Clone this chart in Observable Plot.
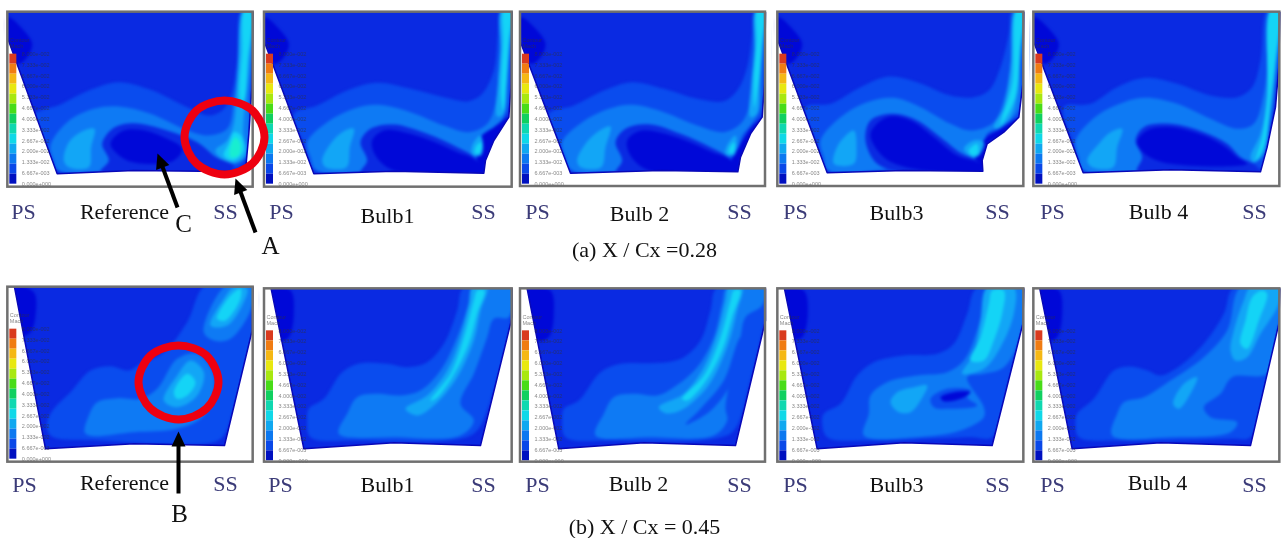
<!DOCTYPE html>
<html><head><meta charset="utf-8">
<style>
html,body{margin:0;padding:0;background:#fff}
svg{display:block;background:#fff}
g[aria-description="contours"]{filter:blur(1.5px)}
g[aria-description="masks"],g[aria-description="walls"],g[aria-description="bars"]{filter:blur(.5px)}
g[aria-description="ticks"]{filter:blur(.5px)}
g[aria-description="labels"]{filter:blur(.3px)}
</style>
<script src="https://cdn.jsdelivr.net/npm/d3@7"></script>
<script src="https://cdn.jsdelivr.net/npm/@observablehq/plot@0.6"></script>
</head><body>
<script>
const levelColors = ["#0008d8","#0a2ae2","#0a4cee","#0e7af4","#12a6f6","#14d4f6","#18eed0"];
const barColors = ["#d93a1e","#f07c12","#f5b814","#e8e810","#a8e810","#48dc18","#10d060","#10d8b0","#10d8e8","#10a8f0","#0c78f0","#0a48e8","#0010c0"];
const barTicks = ["8.000e-002","7.333e-002","6.667e-002","6.000e-002","5.333e-002","4.667e-002","4.000e-002","3.333e-002","2.667e-002","2.000e-002","1.333e-002","6.667e-003","0.000e+000"];

// Contours: [level, outline], in 3x crop pixels
const a0Contours = [
 [0,[[22,50],[70,90],[95,130],[80,170],[50,190],[22,120]]],
 [2,[[100,345],[180,312],[270,268],[355,245],[450,268],[560,320],[625,345],[665,330],[690,290],[710,180],[722,30],[752,30],[748,300],[736,480],[700,505],[620,495],[560,500],[170,510],[130,430]]],
 [3,[[150,435],[200,365],[280,325],[355,318],[450,340],[550,385],[620,405],[680,385],[700,300],[718,150],[726,30],[752,30],[748,300],[735,470],[700,490],[640,490],[400,505],[175,510],[160,480]]],
 [1,[[305,430],[340,382],[400,368],[500,390],[590,425],[650,472],[700,495],[680,515],[300,515],[325,480]]],
 [0,[[330,430],[365,392],[420,388],[490,410],[545,445],[520,480],[430,490],[370,475]]],
 [4,[[190,480],[205,425],[240,395],[282,385],[272,440],[265,500],[205,500]]],
 [4,[[728,30],[752,30],[745,200],[735,300],[728,400],[738,460],[705,488],[665,475],[645,450],[680,420],[700,370],[712,200]]],
 [5,[[732,30],[752,30],[742,180],[730,300],[720,300],[725,150]]],
 [5,[[700,395],[722,405],[730,450],[700,480],[670,465],[685,430]]],
 [6,[[705,410],[720,430],[715,465],[690,470],[690,435]]]
];
const a1Contours = [
 [0,[[12,50],[60,90],[85,130],[70,170],[40,190],[12,120]]],
 [2,[[100,340],[170,315],[260,270],[350,247],[450,265],[550,290],[625,302],[665,280],[700,210],[712,100],[720,30],[752,30],[745,330],[712,375],[680,410],[660,470],[600,500],[160,510],[130,430]]],
 [3,[[140,425],[200,365],[280,325],[350,313],[450,335],[550,375],[625,395],[680,370],[705,310],[718,150],[725,30],[752,30],[745,200],[735,330],[715,372],[680,395],[660,460],[640,470],[500,490],[170,510],[150,470]]],
 [0,[[660,410],[700,380],[745,350],[700,430],[675,490],[672,518],[640,515],[650,470]]],
 [1,[[300,425],[330,385],[400,372],[500,400],[590,440],[640,468],[660,500],[660,520],[300,520],[320,480]]],
 [0,[[335,420],[370,390],[430,395],[510,420],[590,455],[640,475],[670,515],[400,510],[345,465]]],
 [4,[[185,480],[210,430],[245,395],[280,385],[268,440],[258,500],[195,500]]],
 [4,[[722,30],[752,30],[745,150],[738,250],[730,340],[710,348],[712,250],[720,150]]],
 [5,[[730,30],[752,30],[745,120],[738,240],[728,330],[722,290],[728,120]]],
 [4,[[635,435],[660,405],[668,440],[660,465],[635,462]]],
 [5,[[645,440],[662,425],[660,455],[645,460]]]
];
const a2Contours = [
 [0,[[780,50],[830,90],[855,130],[840,170],[810,190],[780,120]]],
 [2,[[865,340],[940,315],[1030,270],[1115,245],[1210,265],[1310,295],[1390,302],[1430,270],[1460,200],[1475,100],[1483,30],[1512,30],[1506,340],[1470,380],[1440,430],[1420,470],[1360,500],[930,510],[895,430]]],
 [3,[[905,425],[965,365],[1045,325],[1115,313],[1210,335],[1310,375],[1390,395],[1440,370],[1465,320],[1480,150],[1487,30],[1512,30],[1505,200],[1497,330],[1470,375],[1445,405],[1428,455],[1400,470],[1250,490],[935,510],[915,470]]],
 [0,[[1435,440],[1470,385],[1507,350],[1470,410],[1440,480],[1432,518],[1400,515],[1420,465]]],
 [1,[[1065,425],[1095,385],[1170,372],[1260,400],[1350,440],[1400,468],[1425,500],[1425,520],[1065,520],[1085,480]]],
 [0,[[1100,420],[1135,392],[1195,395],[1275,420],[1355,455],[1405,475],[1430,515],[1165,510],[1110,465]]],
 [4,[[950,480],[975,430],[1010,395],[1050,378],[1035,440],[1022,500],[960,500]]],
 [4,[[1485,30],[1512,30],[1505,150],[1497,250],[1490,340],[1470,350],[1472,250],[1482,150]]],
 [5,[[1490,30],[1512,30],[1505,120],[1495,240],[1482,320],[1480,240],[1488,120]]],
 [4,[[1400,435],[1425,405],[1428,440],[1420,465],[1395,460]]],
 [5,[[1408,440],[1422,425],[1420,455],[1405,458]]]
];
const a3Contours = [
 [0,[[22,50],[70,90],[95,130],[80,170],[50,190],[22,120]]],
 [2,[[105,320],[180,310],[270,260],[355,228],[440,245],[540,285],[610,290],[655,270],[690,200],[715,100],[725,30],[760,30],[755,330],[710,385],[650,405],[625,480],[560,500],[170,510],[135,420]]],
 [3,[[150,420],[210,350],[290,305],[370,292],[450,320],[540,370],[600,390],[670,365],[705,280],[725,150],[733,30],[758,30],[750,200],[745,325],[700,375],[650,400],[630,465],[590,480],[400,500],[175,510],[160,470]]],
 [0,[[640,420],[690,385],[750,350],[700,400],[650,430],[640,500],[600,510],[615,470]]],
 [1,[[285,420],[300,360],[370,340],[440,360],[510,410],[575,460],[620,480],[640,515],[400,515],[320,490]]],
 [0,[[300,400],[350,350],[420,360],[490,410],[560,465],[630,490],[635,512],[430,505],[340,470]]],
 [4,[[190,490],[205,430],[250,390],[258,440],[250,490]]],
 [4,[[733,30],[757,30],[750,150],[740,280],[720,350],[680,385],[670,380],[700,320],[720,200]]],
 [5,[[738,30],[757,30],[748,150],[735,290],[690,375],[695,350],[725,250]]],
 [4,[[580,445],[610,420],[640,425],[625,465],[605,470]]],
 [5,[[595,450],[620,430],[622,460],[605,465]]]
];
const a4Contours = [
 [0,[[790,50],[840,90],[865,130],[850,170],[820,190],[790,120]]],
 [2,[[880,320],[960,310],[1040,260],[1125,232],[1220,250],[1320,285],[1400,290],[1445,260],[1470,180],[1490,30],[1525,30],[1515,280],[1490,430],[1470,505],[1300,505],[940,510],[905,420]]],
 [3,[[915,420],[980,345],[1060,305],[1125,292],[1220,310],[1320,355],[1400,385],[1450,370],[1480,280],[1495,150],[1498,30],[1525,30],[1515,200],[1505,330],[1480,440],[1465,480],[1300,495],[940,510],[925,470]]],
 [1,[[1095,420],[1120,380],[1200,370],[1300,395],[1370,430],[1410,470],[1450,490],[1465,510],[1100,515],[1115,470]]],
 [0,[[1100,425],[1130,390],[1200,380],[1300,405],[1365,440],[1400,470],[1430,490],[1200,490],[1130,465]]],
 [4,[[950,480],[985,430],[1020,395],[1055,385],[1040,440],[1028,500],[965,500]]],
 [4,[[1498,30],[1525,30],[1517,200],[1500,340],[1480,460],[1450,485],[1440,470],[1470,400],[1490,280]]],
 [5,[[1500,30],[1525,30],[1515,170],[1500,290],[1480,440],[1455,480],[1475,410],[1490,290]]]
];
const b0Contours = [
 [0,[[42,35],[100,50],[105,120],[90,170],[65,180]]],
 [2,[[160,400],[210,350],[270,285],[330,272],[385,285],[420,265],[490,230],[560,140],[615,30],[758,30],[758,170],[700,400],[670,480],[640,500],[300,495],[150,480],[140,440]]],
 [3,[[610,170],[650,60],[680,30],[755,30],[752,100],[690,190],[640,195]]],
 [3,[[255,475],[265,420],[290,380],[350,368],[420,370],[470,340],[530,250],[590,235],[640,300],[630,380],[600,430],[530,460],[400,470]]],
 [4,[[490,375],[530,300],[570,255],[610,290],[590,360],[530,395]]],
 [5,[[520,350],[560,295],[585,320],[560,360],[530,370]]],
 [4,[[630,150],[670,70],[700,35],[740,40],[730,80],[680,150]]],
 [5,[[650,130],[690,60],[720,40],[720,70],[675,135]]]
];
const b1Contours = [
 [0,[[32,25],[90,30],[100,100],[85,170],[60,180]]],
 [2,[[145,385],[190,355],[245,275],[300,248],[380,250],[440,260],[500,245],[550,190],[590,90],[610,20],[755,20],[752,110],[700,330],[650,450],[600,475],[300,480],[150,470],[140,420]]],
 [3,[[235,460],[260,400],[290,350],[350,340],[420,345],[480,330],[540,270],[590,170],[625,70],[640,20],[755,20],[745,110],[700,115],[680,170],[640,280],[600,370],[640,420],[600,465],[400,470]]],
 [4,[[435,385],[500,345],[560,270],[600,170],[625,70],[635,20],[680,20],[660,90],[640,180],[590,290],[520,375],[470,405]]],
 [5,[[510,360],[570,280],[610,170],[640,60],[650,30],[672,30],[650,100],[625,190],[575,290],[525,355]]]
];
const b2Contours = [
 [0,[[800,25],[870,30],[880,100],[865,170],[830,180]]],
 [2,[[910,385],[955,360],[1020,275],[1080,250],[1150,248],[1220,245],[1270,230],[1320,180],[1350,90],[1370,20],[1515,20],[1512,115],[1470,300],[1420,450],[1360,475],[1060,480],[915,470],[905,420]]],
 [3,[[1005,465],[1030,400],[1060,350],[1120,340],[1190,345],[1240,320],[1310,260],[1360,170],[1385,70],[1400,20],[1515,20],[1505,75],[1455,110],[1440,170],[1395,380],[1400,420],[1360,465],[1170,470]]],
 [2,[[1275,432],[1320,385],[1390,300],[1440,170],[1452,170],[1440,230],[1400,330],[1345,395]]],
 [4,[[1195,380],[1270,340],[1330,260],[1370,160],[1395,60],[1405,20],[1445,20],[1430,90],[1400,200],[1340,320],[1260,390],[1215,398]]],
 [5,[[1265,355],[1330,285],[1380,170],[1410,60],[1420,30],[1440,30],[1415,110],[1385,210],[1330,310],[1280,360]]]
];
const b3Contours = [
 [0,[[42,25],[100,30],[112,100],[95,170],[70,175]]],
 [2,[[160,400],[210,370],[260,285],[310,245],[400,225],[500,220],[550,190],[590,100],[620,20],[760,20],[755,140],[715,300],[665,470],[600,470],[300,480],[170,470],[155,430]]],
 [3,[[280,465],[295,400],[300,345],[350,305],[440,285],[530,275],[580,240],[620,150],[640,70],[650,20],[760,20],[745,180],[700,260],[640,280],[590,290],[640,380],[640,410],[570,450],[440,470]]],
 [2,[[480,355],[530,325],[600,330],[590,350],[620,375],[540,385],[490,380]]],
 [0,[[510,350],[550,335],[600,335],[570,355],[520,362]]],
 [4,[[360,365],[380,335],[430,320],[470,315],[450,360],[420,395],[385,395]]],
 [4,[[575,280],[610,220],[630,120],[650,20],[730,20],[730,100],[690,200],[640,265]]],
 [5,[[600,240],[630,170],[655,70],[665,30],[700,30],[695,100],[670,180],[640,240]]]
];
const b4Contours = [
 [0,[[808,25],[865,30],[875,100],[860,170],[835,180]]],
 [2,[[920,400],[970,355],[1030,270],[1080,258],[1130,270],[1170,285],[1230,255],[1300,190],[1360,100],[1390,20],[1528,20],[1522,140],[1480,340],[1440,470],[1380,475],[1050,480],[925,470],[915,430]]],
 [3,[[1025,465],[1040,400],[1060,365],[1120,350],[1200,300],[1300,230],[1370,150],[1410,20],[1528,20],[1518,170],[1490,280],[1385,290],[1350,340],[1300,380],[1320,410],[1400,425],[1380,455],[1200,470]]],
 [4,[[1208,370],[1240,310],[1280,290],[1265,330],[1225,385]]],
 [4,[[1380,210],[1390,150],[1420,60],[1440,20],[1528,20],[1525,70],[1470,160],[1430,230],[1395,240]]],
 [5,[[1410,190],[1425,120],[1445,50],[1475,30],[1490,40],[1465,120],[1430,205]]]
];
// wall outlines
const a0Edge = [[22,115],[170,520],[400,510],[600,512],[735,512],[745,400],[755,250],[758,35]];
const a1Edge = [[12,125],[160,520],[400,512],[670,518],[675,480],[700,420],[745,350],[752,250],[755,35]];
const a2Edge = [[780,125],[930,518],[1200,510],[1432,514],[1440,470],[1470,400],[1505,350],[1512,250],[1515,35]];
const a3Edge = [[22,120],[170,517],[400,510],[637,512],[635,480],[650,430],[700,395],[745,350],[757,250],[760,35]];
const a4Edge = [[790,125],[938,517],[1200,508],[1470,514],[1490,440],[1515,320],[1525,200],[1528,35]];
const b0Edge = [[42,35],[135,520],[400,505],[672,510],[755,165],[758,35]];
const b1Edge = [[32,25],[130,505],[400,487],[660,495],[755,110],[755,25]];
const b2Edge = [[800,25],[895,505],[1150,487],[1425,495],[1515,120],[1515,25]];
const b3Edge = [[42,25],[140,505],[400,487],[665,495],[757,130],[760,25]];
const b4Edge = [[808,25],[905,505],[1170,487],[1440,495],[1525,130],[1528,25]];

const panelTable = [
 {crop:[0,0],frame:[22,35,758,560],edge:a0Edge,contours:a0Contours},
 {crop:[260,0],frame:[12,35,755,560],edge:a1Edge,contours:a1Contours},
 {crop:[260,0],frame:[780,35,1515,558],edge:a2Edge,contours:a2Contours},
 {crop:[770,0],frame:[22,35,760,558],edge:a3Edge,contours:a3Contours},
 {crop:[770,0],frame:[790,35,1528,558],edge:a4Edge,contours:a4Contours},
 {crop:[0,275],frame:[22,35,758,560],edge:b0Edge,contours:b0Contours},
 {crop:[260,280],frame:[12,25,755,545],edge:b1Edge,contours:b1Contours},
 {crop:[260,280],frame:[780,25,1515,545],edge:b2Edge,contours:b2Contours},
 {crop:[770,280],frame:[22,25,760,545],edge:b3Edge,contours:b3Contours},
 {crop:[770,280],frame:[790,25,1528,545],edge:b4Edge,contours:b4Contours}
];

const captions = [
 ["PS",23,211],["Reference",124,211],["SS",225,211],["PS",281,211],["Bulb1",387,215],["SS",483,211],
 ["PS",537,211],["Bulb 2",639,213],["SS",739,211],["PS",795,211],["Bulb3",896,212],["SS",997,211],
 ["PS",1052,211],["Bulb 4",1158,211],["SS",1254,211],
 ["PS",24,484],["Reference",124,482],["SS",225,483],["PS",280,484],["Bulb1",387,484],["SS",483,484],
 ["PS",537,484],["Bulb 2",638,483],["SS",739,484],["PS",795,484],["Bulb3",896,484],["SS",997,484],
 ["PS",1052,484],["Bulb 4",1157,482],["SS",1254,484]
];
const notes = [["C",183,223,25],["A",270,245,25],["B",179,513,25],["(a) X / Cx =0.28",644,249,22],["(b) X / Cx = 0.45",644,526,22]];
const arrowShafts = [[255,232,238,186],[177,207,160,161],[178,493,178,440]];
const arrowHeads = [[[235,178],[246.8,189.6],[233.6,194.4]],[[157,153],[168.8,164.6],[155.6,169.4]],[[178,431],[171,446],[185,446]]];
const redRings = [
 [[224,100],[252,110],[264,137],[252,163],[224,174],[196,163],[184,137],[196,110]],
 [[178,345],[206,355],[218,382],[206,408],[178,419],[150,408],[138,382],[150,355]]
];

// Build tables for the marks
const toX = (p,v) => p.crop[0] + v/3, toY = (p,v) => p.crop[1] + v/3;
const rows = [], maskRows = [], edgeRows = [], frames = [], bars = [], ticks = [], strips = [];
panelTable.forEach((p,pi) => {
  const [fx1,fy1,fx2,fy2] = p.frame;
  const f = {x1:toX(p,fx1),y1:toY(p,fy1),x2:toX(p,fx2),y2:toY(p,fy2)};
  frames.push(f);
  strips.push({x1:f.x1-3,x2:f.x2+6,y1:f.y1-14,y2:f.y1},{x1:f.x2,x2:f.x2+6,y1:f.y1-14,y2:f.y2},{x1:f.x1-3,x2:f.x1,y1:f.y1-14,y2:f.y2});
  p.contours.forEach(([level,pts],ri) => pts.forEach(([x,y]) => rows.push({id:pi+"-"+ri,level,x:toX(p,x),y:toY(p,y)})));
  [...p.edge,[fx2,fy2],[fx1,fy2],[fx1,fy1]].forEach(([x,y]) => maskRows.push({id:pi,x:toX(p,x),y:toY(p,y)}));
  p.edge.forEach(([x,y]) => edgeRows.push({id:pi,x:toX(p,x),y:toY(p,y)}));
  const top = f.y1 + 42, step = 10;
  barColors.forEach((c,i) => bars.push({x1:f.x1+2,x2:f.x1+9,y1:top+i*step,y2:top+(i+1)*step,c}));
  barTicks.forEach((t,i) => ticks.push({x:f.x1+14,y:top+i*(130/12),t}));
  ticks.push({x:f.x1+2,y:f.y1+28,t:"Contour"},{x:f.x1+2,y:f.y1+34,t:"Mach"});
});
const ringRows = redRings.flatMap((r,i) => r.map(([x,y]) => ({id:i,x,y})));
const headRows = arrowHeads.flatMap((r,i) => r.map(([x,y]) => ({id:i,x,y})));

const chart = Plot.plot({
  width:1282, height:538, margin:0,
  x:{domain:[0,1282],axis:null}, y:{domain:[538,0],axis:null},
  color:{type:"identity"},
  marks:[
    Plot.rect(frames,{x1:"x1",x2:"x2",y1:"y1",y2:"y2",fill:levelColors[1]}),
    Plot.line(rows,{x:"x",y:"y",z:"id",fill:d=>levelColors[d.level],stroke:"none",curve:"catmull-rom-closed",ariaDescription:"contours"}),
    Plot.line(maskRows,{x:"x",y:"y",z:"id",fill:"#fff",stroke:"none",curve:"linear-closed",ariaDescription:"masks"}),
    Plot.rect(strips,{x1:"x1",x2:"x2",y1:"y1",y2:"y2",fill:"#fff"}),
    Plot.line(edgeRows,{x:"x",y:"y",z:"id",stroke:"#0808b8",strokeWidth:1.5,curve:"linear",ariaDescription:"walls"}),
    Plot.rect(bars,{x1:"x1",x2:"x2",y1:"y1",y2:"y2",fill:"c",ariaDescription:"bars"}),
    Plot.text(ticks,{x:"x",y:"y",text:"t",textAnchor:"start",fontSize:5.5,fill:"#333",fillOpacity:.6,fontFamily:"Liberation Sans",ariaDescription:"ticks"}),
    Plot.rect(frames,{x1:"x1",x2:"x2",y1:"y1",y2:"y2",fill:"none",stroke:"#707070",strokeWidth:2.5}),
    Plot.line(ringRows,{x:"x",y:"y",z:"id",stroke:"#ee0010",strokeWidth:8,curve:"catmull-rom-closed"}),
    Plot.link(arrowShafts,{x1:d=>d[0],y1:d=>d[1],x2:d=>d[2],y2:d=>d[3],stroke:"#000",strokeWidth:4}),
    Plot.line(headRows,{x:"x",y:"y",z:"id",fill:"#000",stroke:"none",curve:"linear-closed"}),
    Plot.text(captions,{x:d=>d[1],y:d=>d[2],text:d=>d[0],fontFamily:"Liberation Serif",fontSize:22,
      fill:d=>d[0]==="PS"||d[0]==="SS"?"#3b3b78":"#111",ariaDescription:"labels"}),
    Plot.text(notes,{x:d=>d[1],y:d=>d[2],text:d=>d[0],fontSize:d=>d[3],fontFamily:"Liberation Serif",fill:"#111",ariaDescription:"labels"})
  ]
});
document.body.appendChild(chart);
</script>
</body></html>
